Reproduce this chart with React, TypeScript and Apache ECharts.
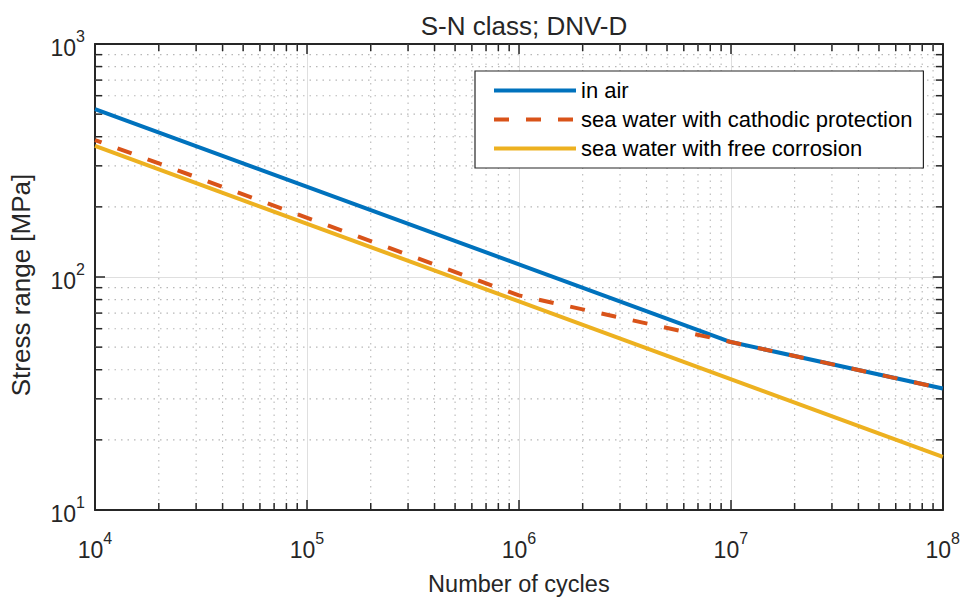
import React, { useEffect, useRef } from 'react';
import * as echarts from 'echarts';

const TITLE = 'S-N class; DNV-D';
const X_NAME = 'Number of cycles';
const Y_NAME = 'Stress range [MPa]';
const SERIES_NAMES = ['in air', 'sea water with cathodic protection', 'sea water with free corrosion'];
const COLORS = ['#0072BD', '#D95319', '#EDB120'];

// values (cycles, stress range in MPa)
const AIR_N = [1e4, 1e7, 1e8];
const AIR_S = [526, 52.6, 33.2];
const CP_N = [1e4, 1e6, 1e7, 1e8];
const CP_S = [387, 83.4, 52.6, 33.2];
const FC_N = [1e4, 1e8];
const FC_S = [365, 16.9];

// axes
const X_MIN = 1e4;
const X_MAX = 1e8;
const Y_MIN = 10;
const Y_MAX = 1000;
const X_DECADES = [1e4, 1e5, 1e6, 1e7];
const Y_DECADES = [10, 100];
const MINOR_MULT = [2, 3, 4, 5, 6, 7, 8, 9];

const FONT = '"Liberation Sans", Arial, Helvetica, sans-serif';
const TXT = '#262626';
const AXIS = '#262626';
const LW = 4;
const DASH = [15, 17];

const xMinor: number[] = [];
X_DECADES.forEach((d) => MINOR_MULT.forEach((m) => xMinor.push(d * m)));
const yMinor: number[] = [];
Y_DECADES.forEach((d) => MINOR_MULT.forEach((m) => yMinor.push(d * m)));

const zip = (a: number[], b: number[]) => a.map((v, i) => [v, b[i]]);

const labelFmt = (v: number) => `{b|10}{s|${Math.round(Math.log10(v))}}`;
const rich = {
  b: { fontSize: 23, fontFamily: FONT, color: TXT, lineHeight: 31, verticalAlign: 'bottom' },
  s: { fontSize: 16, fontFamily: FONT, color: TXT, lineHeight: 16, verticalAlign: 'top' },
};

const MINOR_GRID = { stroke: '#b8b8b8', lineWidth: 1.1, lineDash: [1.5, 5] };
const TICK = { stroke: AXIS, lineWidth: 1.5 };

export default function App() {
  const ref = useRef<HTMLDivElement>(null);
  useEffect(() => {
    if (!ref.current) return;
    document.body.style.margin = '0';
    document.body.style.overflow = 'hidden';
    document.documentElement.style.overflow = 'hidden';
    const chart = echarts.init(ref.current, undefined, { renderer: 'svg' });
    const axisCommon = {
      type: 'log' as const,
      logBase: 10,
      axisLine: { show: true, onZero: false, lineStyle: { color: AXIS, width: 2 } },
      axisTick: { show: true, inside: true, length: 10, lineStyle: { color: AXIS, width: 1.5 } },
      splitLine: { show: false },
      minorTick: { show: false },
    };
    chart.setOption({
      animation: false,
      backgroundColor: '#ffffff',
      title: {
        text: TITLE,
        left: 519,
        top: 8,
        textAlign: 'center',
        textStyle: { fontFamily: FONT, fontSize: 26, fontWeight: 'normal', color: TXT },
      },
      legend: {
        orient: 'vertical',
        left: 475,
        top: 71,
        data: [
          { name: SERIES_NAMES[0] },
          { name: SERIES_NAMES[1], lineStyle: { type: DASH, dashOffset: 0, width: LW } },
          { name: SERIES_NAMES[2] },
        ],
        itemWidth: 82,
        itemHeight: 14,
        itemGap: 0,
        padding: [5, 11, 5, 17],
        backgroundColor: '#ffffff',
        borderColor: '#262626',
        borderWidth: 1.2,
        itemStyle: { opacity: 0 },
        lineStyle: { width: LW },
        textStyle: { fontFamily: FONT, fontSize: 22, color: '#000', lineHeight: 29 },
      },
      grid: { left: 93, right: 18, top: 44, bottom: 79, containLabel: false },
      xAxis: [
        {
          ...axisCommon,
          min: X_MIN,
          max: X_MAX,
          position: 'bottom',
          name: X_NAME,
          nameLocation: 'middle',
          nameGap: 62,
          nameTextStyle: { fontFamily: FONT, fontSize: 23.5, color: TXT },
          axisLabel: { formatter: labelFmt, rich, margin: 20 },
          splitLine: { show: true, lineStyle: { color: '#dfdfdf', width: 1 } },
        },
        {
          ...axisCommon,
          min: X_MIN,
          max: X_MAX,
          position: 'top',
          axisLabel: { show: false },
        },
      ],
      yAxis: [
        {
          ...axisCommon,
          min: Y_MIN,
          max: Y_MAX,
          position: 'left',
          name: Y_NAME,
          nameLocation: 'middle',
          nameGap: 61,
          nameTextStyle: { fontFamily: FONT, fontSize: 26, color: TXT, padding: [0, 16, 0, 0] },
          axisLabel: { formatter: labelFmt, rich, margin: 10 },
          splitLine: { show: true, lineStyle: { color: '#dfdfdf', width: 1 } },
        },
        {
          ...axisCommon,
          min: Y_MIN,
          max: Y_MAX,
          position: 'right',
          axisLabel: { show: false },
        },
      ],
      series: [
        {
          type: 'custom',
          silent: true,
          z: 1,
          xAxisIndex: 0,
          yAxisIndex: 0,
          data: xMinor.map((v) => [v, Y_MIN]),
          encode: { x: 0, y: 1 },
          renderItem: (params: any, api: any) => {
            const x = api.coord([api.value(0), Y_MIN])[0];
            const cs = params.coordSys;
            const b = cs.y + cs.height;
            return {
              type: 'group',
              children: [
                { type: 'line', shape: { x1: x, y1: cs.y, x2: x, y2: b }, style: MINOR_GRID },
                { type: 'line', shape: { x1: x, y1: b, x2: x, y2: b - 7 }, style: TICK },
                { type: 'line', shape: { x1: x, y1: cs.y, x2: x, y2: cs.y + 7 }, style: TICK },
              ],
            };
          },
        },
        {
          type: 'custom',
          silent: true,
          z: 1,
          xAxisIndex: 0,
          yAxisIndex: 0,
          data: yMinor.map((v) => [X_MIN, v]),
          encode: { x: 0, y: 1 },
          renderItem: (params: any, api: any) => {
            const y = api.coord([X_MIN, api.value(1)])[1];
            const cs = params.coordSys;
            const r = cs.x + cs.width;
            return {
              type: 'group',
              children: [
                { type: 'line', shape: { x1: cs.x, y1: y, x2: r, y2: y }, style: MINOR_GRID },
                { type: 'line', shape: { x1: cs.x, y1: y, x2: cs.x + 7, y2: y }, style: TICK },
                { type: 'line', shape: { x1: r, y1: y, x2: r - 7, y2: y }, style: TICK },
              ],
            };
          },
        },
        {
          name: SERIES_NAMES[0],
          type: 'line',
          z: 3,
          data: zip(AIR_N, AIR_S),
          symbol: 'none',
          showSymbol: false,
          color: COLORS[0],
          lineStyle: { color: COLORS[0], width: LW, cap: 'butt' },
        },
        {
          name: SERIES_NAMES[1],
          type: 'line',
          z: 4,
          data: zip(CP_N, CP_S),
          symbol: 'none',
          showSymbol: false,
          color: COLORS[1],
          lineStyle: { color: COLORS[1], width: LW, type: DASH, dashOffset: 8, cap: 'butt' },
        },
        {
          name: SERIES_NAMES[2],
          type: 'line',
          z: 5,
          data: zip(FC_N, FC_S),
          symbol: 'none',
          showSymbol: false,
          color: COLORS[2],
          lineStyle: { color: COLORS[2], width: LW, cap: 'butt' },
        },
      ],
    });
    return () => chart.dispose();
  }, []);
  return (
    <div
      ref={ref}
      style={{ position: 'absolute', left: 0, top: 0, width: 963, height: 601, overflow: 'hidden' }}
    />
  );
}
